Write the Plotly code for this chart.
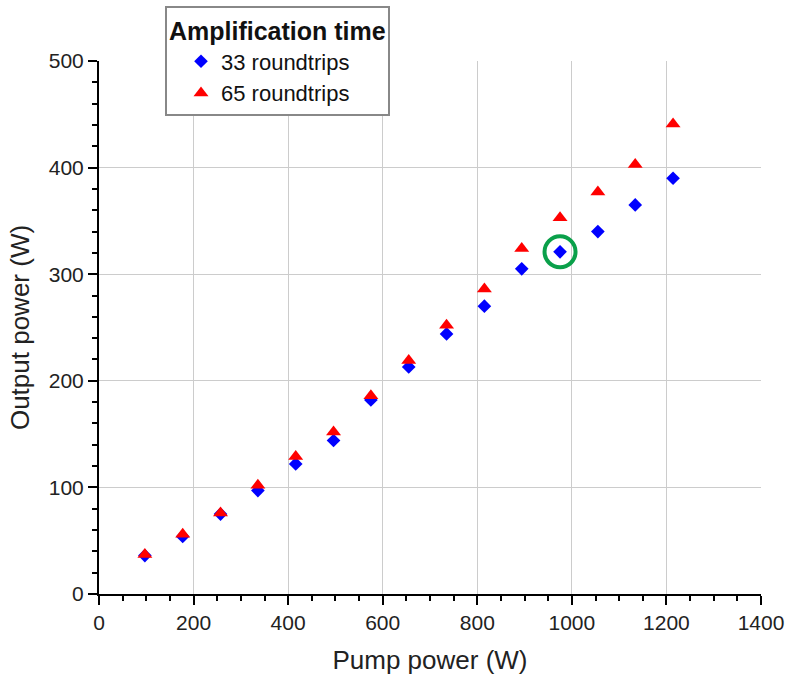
import plotly.graph_objects as go

pump_power = [97, 177, 257, 336, 416, 496, 575, 655, 735, 815, 894, 975, 1055, 1134, 1214]
out_33 = [36, 54, 75, 97, 122, 144, 182, 213, 244, 270, 305, 321, 340, 365, 390]
out_65 = [37, 56, 76, 102, 129, 152, 186, 219, 252, 286, 324, 353, 377, 403, 441]
highlight_x = [975]
highlight_y = [321]

font_family = "Arial, Liberation Sans, sans-serif"

fig = go.Figure()
fig.add_trace(go.Scatter(
    x=pump_power, y=out_33, mode="markers", name="33 roundtrips",
    marker=dict(symbol="diamond", size=10.5, color="#0000ff", line=dict(width=0)),
))
fig.add_trace(go.Scatter(
    x=pump_power, y=out_65, mode="markers", name="65 roundtrips",
    marker=dict(symbol="triangle-up", size=13, color="#ff0000", line=dict(width=0)),
))
fig.add_trace(go.Scatter(
    x=highlight_x, y=highlight_y, mode="markers", showlegend=False,
    marker=dict(symbol="circle-open", size=31, color="#0aa04a", line=dict(width=4, color="#0aa04a")),
))

axis_common = dict(
    showline=True, linecolor="black", linewidth=2,
    ticks="outside", ticklen=9, tickwidth=2, tickcolor="black",
    showgrid=True, gridcolor="#cccccc", gridwidth=1,
    zeroline=False, mirror=False,
    tickfont=dict(family=font_family, size=21, color="#222222"),
    title_font=dict(family=font_family, size=26, color="#222222"),
)

fig.update_xaxes(
    range=[0, 1400], tick0=0, dtick=200,
    title_text="Pump power (W)", title_standoff=18,
    minor=dict(dtick=50, ticks="outside", ticklen=5, tickwidth=2, tickcolor="black", showgrid=False),
    **axis_common,
)
fig.update_yaxes(
    range=[0, 500], tick0=0, dtick=100,
    title_text="Output power (W)", title_standoff=12,
    minor=dict(dtick=20, ticks="outside", ticklen=5, tickwidth=2, tickcolor="black", showgrid=False),
    **axis_common,
)

fig.update_layout(
    width=788, height=680,
    margin=dict(l=99, r=27, t=61, b=86, autoexpand=False),
    paper_bgcolor="white", plot_bgcolor="white",
    font=dict(family=font_family, color="#222222"),
    legend=dict(
        x=0.0997, y=1.1032, xanchor="left", yanchor="top",
        bgcolor="white", bordercolor="#888888", borderwidth=2,
        font=dict(family=font_family, size=22, color="#111111"),
        title=dict(text="<b>Amplification time</b>", font=dict(family=font_family, size=25, color="#111111")),
        itemsizing="trace",
        indentation=14,
    ),
)

fig.write_html("out.html", config={"displayModeBar": False},
               post_script="document.body.style.margin='0';")
